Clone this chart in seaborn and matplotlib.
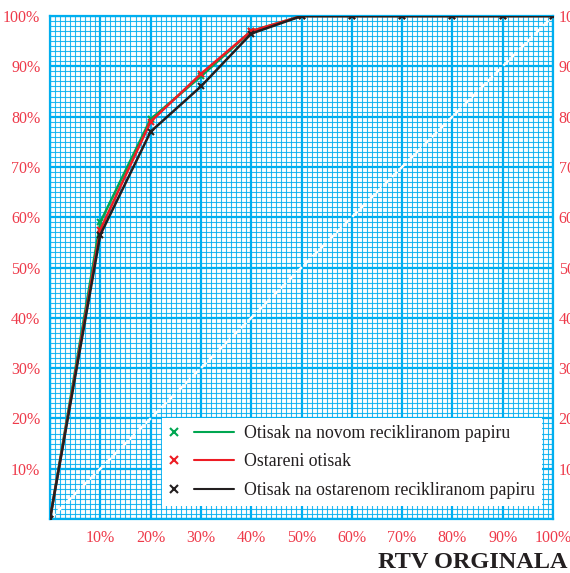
import numpy as np
import pandas as pd
import seaborn as sns
import matplotlib.pyplot as plt
from matplotlib.lines import Line2D
from matplotlib.legend_handler import HandlerBase
from matplotlib.ticker import MultipleLocator, FuncFormatter

# data (percent)
x_vals = [0, 10, 20, 30, 40, 50, 60, 70, 80, 90, 100]
novi_reciklirani = [0, 59, 79.5, 88, 97, 100, 100, 100, 100, 100, 100]
ostareni = [0, 57.5, 79, 88.5, 97, 100, 100, 100, 100, 100, 100]
ostareni_reciklirani = [0, 56.5, 77, 86, 96.5, 100, 100, 100, 100, 100, 100]

labels = ["Otisak na novom recikliranom papiru",
          "Ostareni otisak",
          "Otisak na ostarenom recikliranom papiru"]
colors = ["#00A651", "#ED1C24", "#231F20"]
series = [novi_reciklirani, ostareni, ostareni_reciklirani]

grid_col = "#00AEEF"
label_col = "#EE3A4A"


# legend key: a small "x" on the left, a separate line segment on the right
class MarkerThenLine(HandlerBase):
    def create_artists(self, legend, orig_handle, xdescent, ydescent,
                       width, height, fontsize, trans):
        c = orig_handle.get_color()
        y = height / 2 - ydescent
        x0 = -xdescent
        m = Line2D([x0 + 0.08 * width], [y], ls="", marker="x", color=c,
                   markersize=6, markeredgewidth=1.5, transform=trans)
        ln = Line2D([x0 + 0.39 * width, x0 + width], [y, y], color=c,
                    lw=1.5, transform=trans)
        return [m, ln]


sns.set_style("white")
plt.rcParams["font.family"] = ["Liberation Serif", "DejaVu Serif"]

fig = plt.figure(figsize=(5.70, 5.73), dpi=100)
ax = fig.add_axes([0.0877, 0.0942, 0.8825, 0.8778])

ax.set_xlim(0, 100)
ax.set_ylim(0, 100)

# graph-paper grid
ax.xaxis.set_major_locator(MultipleLocator(10))
ax.yaxis.set_major_locator(MultipleLocator(10))
ax.xaxis.set_minor_locator(MultipleLocator(1))
ax.yaxis.set_minor_locator(MultipleLocator(1))
ax.grid(which="minor", color=grid_col, lw=0.8, alpha=0.85)
ax.grid(which="major", color=grid_col, lw=1.6)
ax.set_axisbelow(True)
for sp in ax.spines.values():
    sp.set_color(grid_col)
    sp.set_linewidth(1.6)

# reference diagonal
ax.plot([0, 100], [0, 100], color="white", lw=1.8, ls=(0, (3, 1.5)), zorder=2)

for vals, c in zip(series, colors):
    df = pd.DataFrame({"x": x_vals, "y": vals})
    sns.lineplot(data=df, x="x", y="y", color=c, lw=1.8, marker="x",
                 markersize=4, markeredgewidth=1.5, markeredgecolor=c,
                 ax=ax, zorder=3)

pct = FuncFormatter(lambda v, p: "" if v == 0 else f"{int(v)}%")
ax.xaxis.set_major_formatter(pct)
ax.yaxis.set_major_formatter(pct)
ax.tick_params(which="both", length=0)
ax.tick_params(axis="both", labelsize=11.5, labelcolor=label_col)
ax.tick_params(axis="x", pad=8)
ax.tick_params(axis="y", pad=7)
ax.set_xlabel("")
ax.set_ylabel("")

# right-hand labels run off the page edge, as in the original
sec = ax.secondary_yaxis("right")
sec.yaxis.set_major_locator(MultipleLocator(10))
sec.yaxis.set_major_formatter(pct)
sec.tick_params(length=0, pad=4, labelsize=11.5, labelcolor=label_col)
sec.spines["right"].set_visible(False)

handles = [Line2D([], [], color=c) for c in colors]
leg = ax.legend(handles, labels, loc="lower left",
                bbox_to_anchor=(0.2227, 0.026), borderaxespad=0,
                handler_map={Line2D: MarkerThenLine()},
                handlelength=3.65, handletextpad=0.56, fontsize=12.8,
                frameon=True, fancybox=False, framealpha=1,
                borderpad=0.4, labelspacing=0.64)
leg.get_frame().set_edgecolor("white")
leg.get_frame().set_linewidth(0)
leg.set_zorder(5)
for t in leg.get_texts():
    t.set_color("#231F20")

fig.text(0.996, 0.009, "RTV ORGINALA", ha="right", va="baseline",
         fontsize=17.5, fontweight="bold", color="#231F20")

fig.savefig("out.png", dpi=100)
